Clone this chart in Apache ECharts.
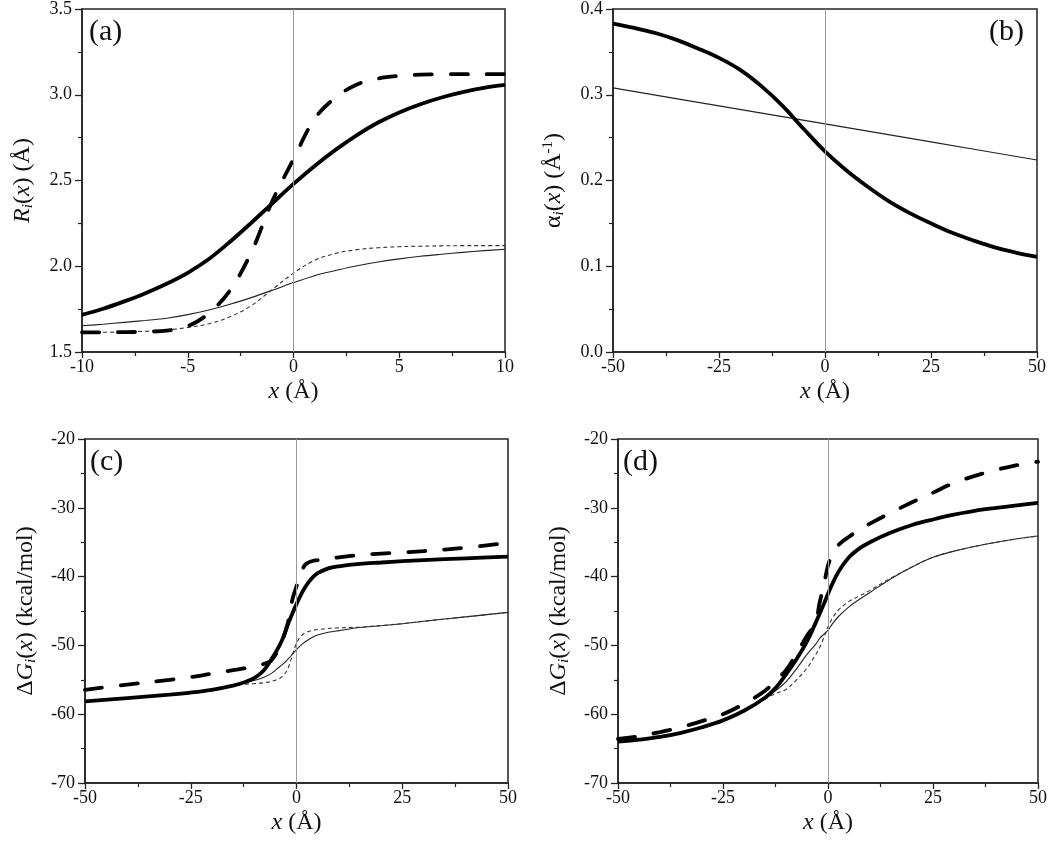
<!DOCTYPE html>
<html><head><meta charset="utf-8">
<script src="https://cdn.jsdelivr.net/npm/echarts@6/dist/echarts.min.js"></script>
<style>html,body{margin:0;padding:0;background:#fff}#c{width:1050px;height:846px}</style>
</head><body><div id="c"></div>
<script>
// ---------- Panel (a): R_i(x) ----------
const xA = [-10,-9,-8,-7,-6,-5,-4,-3,-2,-1,0,1,2,3,4,5,6,7,8,9,10];
const aThickSolid = [1.716,1.752,1.795,1.843,1.898,1.962,2.042,2.143,2.253,2.367,2.48,2.585,2.68,2.765,2.838,2.897,2.945,2.984,3.015,3.04,3.057];
const aThickDash  = [1.615,1.615,1.616,1.618,1.625,1.65,1.726,1.86,2.08,2.38,2.625,2.86,2.985,3.06,3.095,3.11,3.117,3.12,3.12,3.12,3.12];
const aThinSolid  = [1.653,1.662,1.673,1.684,1.697,1.718,1.745,1.778,1.817,1.86,1.905,1.945,1.975,2.003,2.025,2.043,2.058,2.07,2.081,2.091,2.099];
const aThinDash   = [1.615,1.615,1.617,1.621,1.628,1.643,1.665,1.705,1.77,1.865,1.96,2.035,2.075,2.097,2.108,2.114,2.117,2.119,2.12,2.12,2.12];
const aXTicks = [-10,10,5];      // min, max, interval
const aYTicks = [1.5,3.5,0.5];

// ---------- Panel (b): alpha_i(x) ----------
const xB = [-50,-45,-40,-35,-30,-25,-20,-15,-10,-5,0,5,10,15,20,25,30,35,40,45,50];
const bThick = [0.383,0.378,0.372,0.364,0.354,0.343,0.329,0.310,0.287,0.260,0.234,0.212,0.193,0.176,0.162,0.150,0.139,0.130,0.122,0.116,0.111];
const xBThin = [-50,-25,0,25,50];
const bThin  = [0.308,0.287,0.266,0.245,0.224];
const bXTicks = [-50,50,25];
const bYTicks = [0,0.4,0.1];

// ---------- Panel (c): dG_i(x) ----------
const xC = [-50,-40,-30,-25,-20,-15,-12.5,-10,-8,-6,-4,-3,-2,-1,0,1,2,3,4,5,7.5,10,15,20,25,30,40,50];
const cThickSolid = [-58.15,-57.65,-57.15,-56.85,-56.45,-55.85,-55.4,-54.75,-53.8,-52.1,-50.0,-48.6,-46.9,-45.4,-44.0,-42.7,-41.6,-40.7,-40.0,-39.5,-38.8,-38.5,-38.15,-37.95,-37.75,-37.6,-37.35,-37.1];
const cThickDash  = [-56.45,-55.7,-55.0,-54.6,-54.1,-53.6,-53.35,-53.1,-52.75,-52.2,-50.3,-48.7,-46.6,-43.4,-41.4,-39.6,-38.3,-37.9,-37.7,-37.6,-37.45,-37.2,-36.85,-36.65,-36.5,-36.3,-35.8,-35.1];
const cThinSolid  = [-58.15,-57.65,-57.15,-56.85,-56.45,-55.8,-55.4,-55.1,-54.7,-54.1,-53.1,-52.6,-52.0,-51.3,-50.6,-50.0,-49.5,-49.1,-48.75,-48.5,-48.1,-47.85,-47.4,-47.15,-46.85,-46.5,-45.85,-45.2];
const cThinDash   = [-58.15,-57.65,-57.15,-56.85,-56.45,-55.85,-55.65,-55.55,-55.45,-55.25,-54.8,-54.3,-53.3,-51.5,-49.7,-48.7,-48.2,-47.95,-47.8,-47.7,-47.55,-47.45,-47.35,-47.1,-46.85,-46.5,-45.85,-45.2];
const cXTicks = [-50,50,25];
const cYTicks = [-70,-20,10];

// ---------- Panel (d): dG_i(x) ----------
const xD = [-50,-45,-40,-35,-30,-25,-20,-15,-12.5,-10,-7.5,-5,-3,-2,-1,0,1,2.5,5,7.5,10,15,20,25,30,37.5,45,50];
const dThickSolid = [-64.0,-63.7,-63.3,-62.7,-61.9,-60.9,-59.5,-57.6,-56.2,-54.2,-52.0,-49.4,-46.8,-45.4,-44.0,-42.5,-41.1,-39.3,-37.2,-35.9,-35.0,-33.6,-32.5,-31.7,-31.0,-30.2,-29.65,-29.3];
const dThickDash  = [-63.6,-63.2,-62.6,-61.9,-61.0,-60.0,-58.5,-56.6,-55.1,-53.6,-51.2,-48.6,-46.8,-43.8,-41.3,-38.4,-36.8,-35.4,-34.2,-33.2,-32.3,-30.7,-29.2,-27.8,-26.4,-24.9,-23.8,-23.3];
const dThinSolid  = [-64.0,-63.7,-63.3,-62.7,-61.9,-60.9,-59.5,-57.7,-56.6,-55.3,-53.4,-51.3,-49.9,-49.0,-48.4,-47.8,-46.9,-45.8,-44.4,-43.3,-42.3,-40.3,-38.6,-37.2,-36.3,-35.3,-34.5,-34.1];
const dThinDash   = [-64.0,-63.7,-63.3,-62.7,-61.9,-60.9,-59.5,-57.8,-57.0,-56.4,-55.0,-53.3,-51.4,-50.3,-48.9,-47.3,-46.1,-44.85,-43.6,-42.8,-42.0,-40.2,-38.6,-37.2,-36.3,-35.3,-34.5,-34.1];
const dXTicks = [-50,50,25];
const dYTicks = [-70,-20,10];

const panelLabels = ['(a)','(b)','(c)','(d)'];

// ---------- build ----------
const FONT = '"Liberation Serif","Times New Roman",serif';
const chart = echarts.init(document.getElementById('c'));
const pairs = (xs, ys) => xs.map((x, i) => [x, ys[i]]);

const NAME_FS = 24;
const rich = {
  n:   {fontFamily: FONT, fontSize: NAME_FS, color: '#111', lineHeight: 26},
  it:  {fontFamily: FONT, fontSize: NAME_FS, color: '#111', fontStyle: 'italic', lineHeight: 26},
  sub: {fontFamily: FONT, fontSize: 15, color: '#111', fontStyle: 'italic', verticalAlign: 'bottom'},
  sup: {fontFamily: FONT, fontSize: 15, color: '#111', verticalAlign: 'top'}
};
const nameStyle = {fontFamily: FONT, fontSize: NAME_FS, color: '#111', rich: rich};

const grids = [
  {left: 82,  top: 9,   width: 423, height: 343},
  {left: 613, top: 9,   width: 424, height: 343},
  {left: 85,  top: 439, width: 423, height: 344},
  {left: 618, top: 439, width: 423, height: 344}
].map(g => Object.assign(g, {show: true, borderColor: '#222', borderWidth: 1.5, backgroundColor: 'transparent', containLabel: false}));

function mkX(gi, t) {
  return {
    type: 'value', gridIndex: gi, min: t[0], max: t[1], interval: t[2],
    axisLine: {show: true, onZero: false, lineStyle: {color: '#222', width: 1.5}},
    axisTick: {show: true, length: 6, lineStyle: {color: '#222', width: 1.3}},
    minorTick: {show: true, splitNumber: 2, length: 4, lineStyle: {color: '#222', width: 1.2}},
    splitLine: {show: false}, minorSplitLine: {show: false},
    axisLabel: {fontFamily: FONT, fontSize: 18, color: '#111', margin: 6},
    name: '{it|x}{n| (Å)}', nameLocation: 'middle', nameGap: 27, nameTextStyle: nameStyle
  };
}
function mkY(gi, t, name, dec, gap) {
  return {
    type: 'value', gridIndex: gi, min: t[0], max: t[1], interval: t[2],
    axisLine: {show: true, onZero: false, lineStyle: {color: '#222', width: 1.5}},
    axisTick: {show: true, length: 7, lineStyle: {color: '#222', width: 1.3}},
    minorTick: {show: true, splitNumber: 2, length: 4, lineStyle: {color: '#222', width: 1.2}},
    splitLine: {show: false}, minorSplitLine: {show: false},
    axisLabel: {fontFamily: FONT, fontSize: 18, color: '#111', margin: 10,
      formatter: v => v.toFixed(dec)},
    name: name, nameLocation: 'middle', nameRotate: 90, nameGap: gap, nameTextStyle: nameStyle
  };
}

const THICK = {color: '#000', width: 3.8};
const THICKD = {color: '#000', width: 3.8, type: [17, 19], cap: 'round'};
const THIN = {color: '#222', width: 1.1};
const THIND = {color: '#333', width: 1.1, type: [4, 3]};

function ser(gi, data, style, zero) {
  const s = {type: 'line', xAxisIndex: gi, yAxisIndex: gi, data: data, showSymbol: false, symbol: 'none',
    smooth: 0.35, lineStyle: style, silent: true};
  if (zero) s.markLine = {silent: true, symbol: 'none', label: {show: false},
    lineStyle: {color: '#9a9a9a', width: 1, type: 'solid'}, data: [{xAxis: 0}]};
  return s;
}

const series = [
  ser(0, pairs(xA, aThinSolid), THIN, true),
  ser(0, pairs(xA, aThinDash), THIND),
  ser(0, pairs(xA, aThickSolid), THICK),
  ser(0, pairs(xA, aThickDash), THICKD),
  ser(1, pairs(xBThin, bThin), THIN, true),
  ser(1, pairs(xB, bThick), THICK),
  ser(2, pairs(xC, cThinSolid), THIN, true),
  ser(2, pairs(xC, cThinDash), THIND),
  ser(2, pairs(xC, cThickSolid), THICK),
  ser(2, pairs(xC, cThickDash), THICKD),
  ser(3, pairs(xD, dThinSolid), THIN, true),
  ser(3, pairs(xD, dThinDash), THIND),
  ser(3, pairs(xD, dThickSolid), THICK),
  ser(3, pairs(xD, dThickDash), THICKD)
];

const labelPos = [[89, 17], [989, 17], [90, 447], [623, 447]];
const graphic = panelLabels.map((t, i) => ({
  type: 'text', left: labelPos[i][0], top: labelPos[i][1], silent: true,
  style: {text: t, font: '30px ' + FONT, fill: '#111'}
}));

chart.setOption({
  animation: false,
  backgroundColor: '#fff',
  grid: grids,
  xAxis: [mkX(0, aXTicks), mkX(1, bXTicks), mkX(2, cXTicks), mkX(3, dXTicks)],
  yAxis: [
    mkY(0, aYTicks, '{it|R}{sub|i}{n|(}{it|x}{n|) (Å)}', 1, 46),
    mkY(1, bYTicks, '{n|α}{sub|i}{n|(}{it|x}{n|) (Å}{sup|-1}{n|)}', 1, 46),
    mkY(2, cYTicks, '{n|Δ}{it|G}{sub|i}{n|(}{it|x}{n|) (kcal/mol)}', 0, 46),
    mkY(3, dYTicks, '{n|Δ}{it|G}{sub|i}{n|(}{it|x}{n|) (kcal/mol)}', 0, 46)
  ],
  graphic: graphic,
  series: series
});
</script></body></html>
